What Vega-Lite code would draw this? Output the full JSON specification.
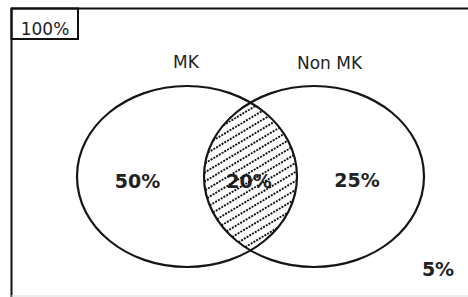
{
  "$schema": "https://vega.github.io/schema/vega-lite/v6.json",
  "width": 468,
  "height": 297,
  "autosize": {"type": "none"},
  "padding": 0,
  "background": "white",
  "config": {"view": {"stroke": null}},
  "datasets": {
    "frame": [
      {"x": 11, "y": 8.5, "x2": 470, "y2": 8.5},
      {"x": 11.5, "y": 8, "x2": 11.5, "y2": 300}
    ],
    "frameBottom": [
      {"x": 11, "y": 296, "x2": 470, "y2": 296}
    ],
    "box": [
      {"x": 11.5, "y": 8.5, "x2": 78, "y2": 39}
    ],
    "sets": [
      {"set": "MK", "x": 187, "y": 176.5},
      {"set": "Non MK", "x": 314, "y": 176.5}
    ],
    "hatch": [
      {"x": 223.26, "y": 125.34, "x2": 255.75, "y2": 105.85},
      {"x": 213.11, "y": 140.43, "x2": 262.59, "y2": 110.75},
      {"x": 207.92, "y": 152.55, "x2": 268.82, "y2": 116.01},
      {"x": 205.20, "y": 163.18, "x2": 274.47, "y2": 121.62},
      {"x": 204.09, "y": 172.85, "x2": 279.54, "y2": 127.58},
      {"x": 204.19, "y": 181.79, "x2": 284.04, "y2": 133.88},
      {"x": 205.26, "y": 190.15, "x2": 287.94, "y2": 140.54},
      {"x": 207.15, "y": 198.01, "x2": 291.23, "y2": 147.56},
      {"x": 209.77, "y": 205.44, "x2": 293.85, "y2": 154.99},
      {"x": 213.06, "y": 212.46, "x2": 295.74, "y2": 162.85},
      {"x": 216.96, "y": 219.12, "x2": 296.81, "y2": 171.21},
      {"x": 221.46, "y": 225.42, "x2": 296.91, "y2": 180.15},
      {"x": 226.53, "y": 231.38, "x2": 295.80, "y2": 189.82},
      {"x": 232.18, "y": 236.99, "x2": 293.08, "y2": 200.45},
      {"x": 238.42, "y": 242.25, "x2": 287.89, "y2": 212.57},
      {"x": 245.25, "y": 247.15, "x2": 277.74, "y2": 227.66}
    ],
    "setLabels": [
      {"label": "MK", "x": 186, "y": 63},
      {"label": "Non MK", "x": 329.5, "y": 64}
    ],
    "shares": [
      {"label": "50%", "x": 137.5, "y": 182},
      {"label": "20%", "x": 249, "y": 182},
      {"label": "25%", "x": 357, "y": 181},
      {"label": "5%", "x": 438, "y": 270}
    ],
    "total": [
      {"label": "100%", "x": 45, "y": 30}
    ]
  },
  "encoding": {
    "x": {"field": "x", "type": "quantitative", "scale": {"domain": [0, 468], "nice": false, "zero": false}, "axis": null},
    "y": {"field": "y", "type": "quantitative", "scale": {"domain": [0, 297], "nice": false, "zero": false, "reverse": true}, "axis": null}
  },
  "layer": [
    {
      "data": {"name": "frame"},
      "mark": {"type": "rule", "color": "#111", "strokeWidth": 2},
      "encoding": {"x2": {"field": "x2"}, "y2": {"field": "y2"}}
    },
    {
      "data": {"name": "frameBottom"},
      "mark": {"type": "rule", "color": "#d9d9d9", "strokeWidth": 1},
      "encoding": {"x2": {"field": "x2"}, "y2": {"field": "y2"}}
    },
    {
      "data": {"name": "box"},
      "mark": {"type": "rect", "fill": null, "stroke": "#111", "strokeWidth": 2},
      "encoding": {"x2": {"field": "x2"}, "y2": {"field": "y2"}}
    },
    {
      "data": {"name": "total"},
      "mark": {"type": "text", "font": "DejaVu Sans", "fontSize": 17, "color": "#222", "align": "center", "baseline": "middle"},
      "encoding": {"text": {"field": "label"}}
    },
    {
      "data": {"name": "sets"},
      "mark": {"type": "point", "shape": "M -1 0 A 1 0.8227 0 1 1 1 0 A 1 0.8227 0 1 1 -1 0 Z", "size": 48400, "filled": false, "color": "#151515", "strokeWidth": 2.2, "opacity": 1}
    },
    {
      "data": {"name": "setLabels"},
      "mark": {"type": "text", "font": "DejaVu Sans", "fontSize": 17, "color": "#222", "align": "center", "baseline": "middle"},
      "encoding": {"text": {"field": "label"}}
    },
    {
      "data": {"name": "shares"},
      "mark": {"type": "text", "font": "DejaVu Sans", "fontWeight": "bold", "fontSize": 19, "color": "#222", "align": "center", "baseline": "middle"},
      "encoding": {"text": {"field": "label"}}
    },
    {
      "data": {"name": "hatch"},
      "mark": {"type": "rule", "color": "#111", "strokeWidth": 1.9, "strokeDash": [2, 1.2]},
      "encoding": {"x2": {"field": "x2"}, "y2": {"field": "y2"}}
    }
  ]
}
